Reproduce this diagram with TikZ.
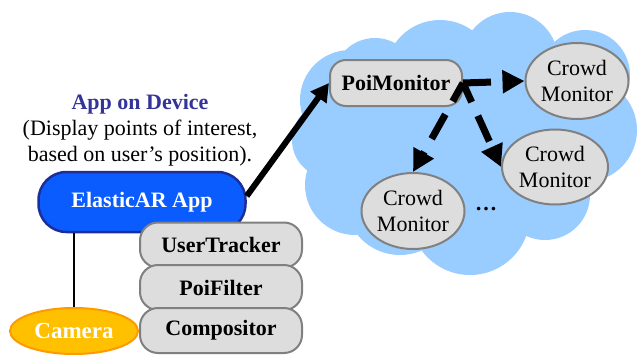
\documentclass[tikz,border=0pt]{standalone}
\usepackage{fontspec}
\setmainfont{Liberation Serif}
\usetikzlibrary{shapes.geometric,arrows.meta}
\definecolor{cloudblue}{HTML}{99CCFF}
\definecolor{compfill}{HTML}{DDDDDD}
\definecolor{compline}{HTML}{808080}
\definecolor{appblue}{HTML}{0A5CFF}
\definecolor{appline}{HTML}{1C2E9A}
\definecolor{camfill}{HTML}{FFC000}
\definecolor{camline}{HTML}{FF9900}
\definecolor{titleblue}{HTML}{333399}
\begin{document}
\begin{tikzpicture}[x=1pt,y=-1pt,
  txt/.style={font=\fontsize{22}{26}\selectfont},
  comp/.style={draw=compline, fill=compfill, line width=2pt, rounded corners=18pt,
    minimum width=162pt, minimum height=45pt, inner sep=0pt,
    font=\fontsize{22}{26}\selectfont\bfseries},
  crowd/.style={ellipse, draw=compline, fill=compfill, line width=2pt,
    minimum width=103pt, minimum height=76pt, inner sep=0pt, align=center,
    font=\fontsize{22}{26}\selectfont},
  dasharrow/.style={line width=7pt, dash pattern=on 28pt off 15pt,
    -{Triangle[length=22pt,width=22pt]}},
  solidarrow/.style={line width=6pt, -{Triangle[length=18pt,width=19pt]}}]
\useasboundingbox (0,0) rectangle (638,356);

% cloud made of overlapping discs
\fill[cloudblue]
  (470,150) circle[radius=100]
  (440,75) circle[radius=55]
  (510,60) circle[radius=48]
  (585,75) circle[radius=45]
  (585,130) circle[radius=52]
  (545,195) circle[radius=45]
  (470,215) circle[radius=60]
  (400,200) circle[radius=55]
  (355,185) circle[radius=50]
  (330,140) circle[radius=38]
  (350,100) circle[radius=50]
  (375,80) circle[radius=42];

% explanatory text
\node[txt, align=center] (desc) at (140,130)
  {\textcolor{titleblue}{\bfseries App on Device}\\(Display points of interest,\\based on user’s position).};

% device side
\node[draw=appline, fill=appblue, line width=2.5pt, rounded corners=28pt,
  minimum width=207pt, minimum height=60pt, inner sep=0pt,
  text=white, font=\fontsize{22}{26}\selectfont\bfseries] (app) at (142,202) {ElasticAR App};
\node[ellipse, draw=camline, fill=camfill, line width=2pt, minimum width=128pt,
  minimum height=46pt, inner sep=0pt, text=white,
  font=\fontsize{23}{26}\selectfont\bfseries] (cam) at (74,331) {Camera};
\draw[line width=2.5pt] (app.south -| cam.north) -- (cam.north);

\node[comp] (tracker) at (221,245) {UserTracker};
\node[comp] (filter) at (221,287.5) {PoiFilter};
\node[comp] (compositor) at (221,330.5) {Compositor};

% cloud side
\node[draw=compline, fill=compfill, line width=2pt, rounded corners=16pt,
  minimum width=132pt, minimum height=46pt, inner sep=0pt,
  font=\fontsize{22}{26}\selectfont\bfseries] (poi) at (396,83) {PoiMonitor};
\node[crowd] (crowdA) at (577,81) {Crowd\\Monitor};
\node[crowd, minimum width=106pt, minimum height=75pt] (crowdB) at (555,167) {Crowd\\Monitor};
\node[crowd] (crowdC) at (413,211) {Crowd\\Monitor};
\node[font=\fontsize{22}{26}\selectfont\bfseries] (dots) at (486,209) {…};

% connectors
\draw[solidarrow] ([yshift=6pt]app.east) -- (poi.west);
\draw[dasharrow] (poi.east) -- (crowdA.west);
\draw[dasharrow, dash phase=7pt] (poi.east) -- (crowdC.north);
\draw[dasharrow, dash phase=7pt] (poi.east) -- (crowdB.west);
\end{tikzpicture}
\end{document}
